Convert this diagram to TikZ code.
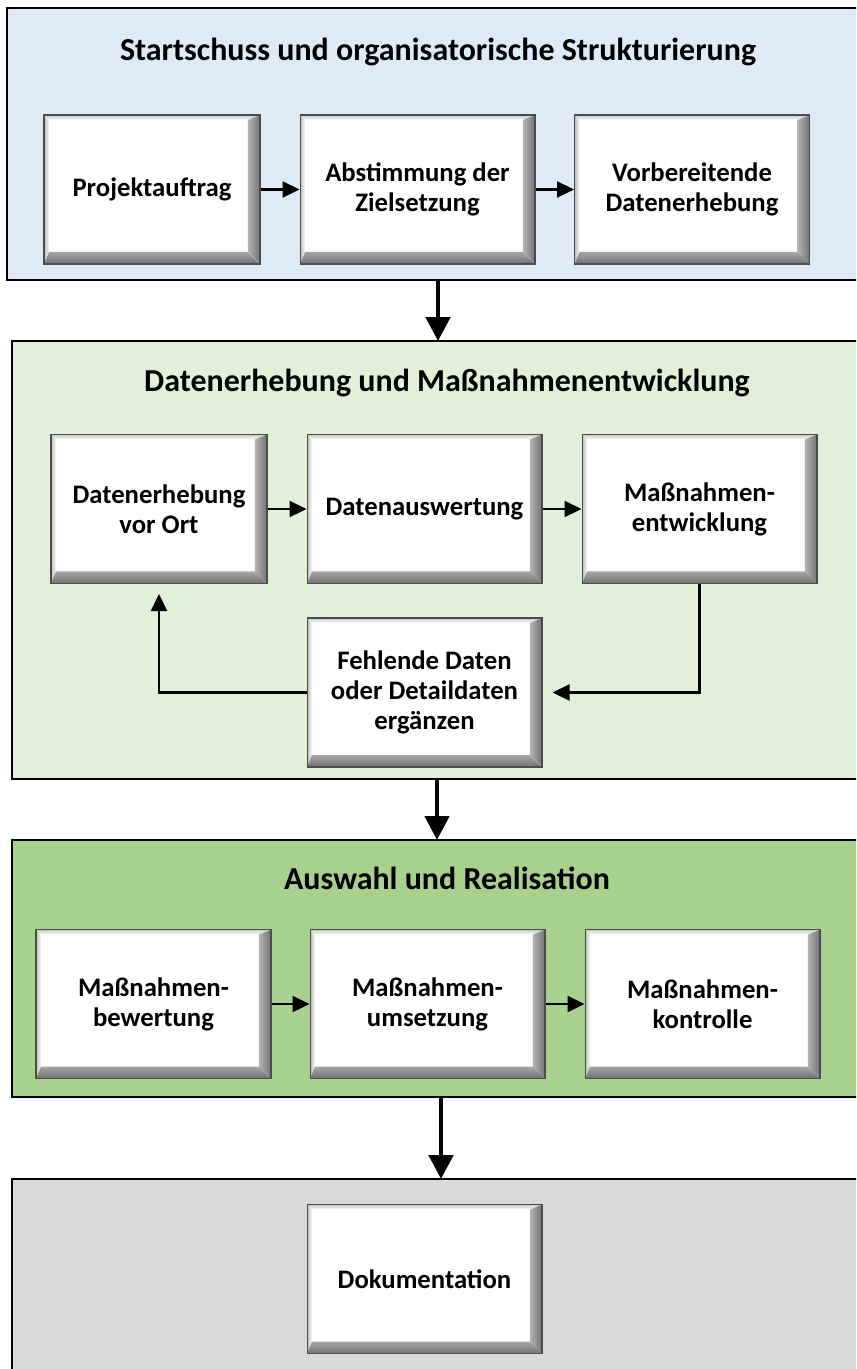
\documentclass[tikz,border=0pt]{standalone}
\usepackage{fontspec}
\setmainfont{Carlito}
\usetikzlibrary{arrows.meta,positioning}

\definecolor{startblue}{HTML}{DEEBF7}
\definecolor{datagreen}{HTML}{E2F0D9}
\definecolor{realgreen}{HTML}{A9D18E}
\definecolor{docgray}{HTML}{D9D9D9}

\tikzset{
    panel/.style={draw=black, line width=1.2pt},
    paneltitle/.style={font=\bfseries\fontsize{18.2}{21}\selectfont},
    bevelbox/.style={draw=black!70, line width=0.6pt, fill=white,
        minimum width=4.7cm, minimum height=2.98cm, inner sep=2pt, align=center,
        font=\bfseries\fontsize{15.2}{17}\selectfont,
        path picture={
            \coordinate (bnw) at (path picture bounding box.north west);
            \coordinate (bne) at (path picture bounding box.north east);
            \coordinate (bse) at (path picture bounding box.south east);
            \coordinate (bsw) at (path picture bounding box.south west);
            % top and left edge: light
            \fill[top color=black!22, bottom color=white]
                (bnw) -- (bne) -- ([shift={(-0.24cm,-0.1cm)}]bne) -- ([shift={(0.1cm,-0.1cm)}]bnw) -- cycle;
            \fill[left color=black!28, right color=white]
                (bnw) -- ([shift={(0.1cm,-0.1cm)}]bnw) -- ([shift={(0.1cm,0.24cm)}]bsw) -- (bsw) -- cycle;
            % right and bottom edge: dark
            \fill[left color=black!30, right color=black!55]
                (bne) -- (bse) -- ([shift={(-0.24cm,0.24cm)}]bse) -- ([shift={(-0.24cm,-0.1cm)}]bne) -- cycle;
            \fill[top color=black!35, bottom color=black!55]
                (bsw) -- ([shift={(0.1cm,0.24cm)}]bsw) -- ([shift={(-0.24cm,0.24cm)}]bse) -- (bse) -- cycle;
        }},
    smallbox/.style={bevelbox, minimum width=4.32cm},
    flow/.style={-{Triangle[length=0.34cm,width=0.32cm]}, line width=1.3pt},
    bigflow/.style={-{Triangle[length=0.48cm,width=0.48cm]}, line width=2.8pt},
}

\begin{document}
\begin{tikzpicture}[x=0.02cm,y=-0.02cm]
    \useasboundingbox (0,0) rectangle (856,1369);
    \clip (0,0) rectangle (856,1369);

    % panels
    \draw[panel, fill=startblue] (7,8) rectangle (880,280);
    \draw[panel, fill=datagreen] (12,341) rectangle (880,779);
    \draw[panel, fill=realgreen] (12,840) rectangle (880,1097);
    \draw[panel, fill=docgray] (12,1179) rectangle (880,1400);

    \node[paneltitle] (t1) at (438,52) {Startschuss und organisatorische Strukturierung};
    \node[paneltitle] (t2) at (447,383) {Datenerhebung und Maßnahmenentwicklung};
    \node[paneltitle] (t3) at (447,878) {Auswahl und Realisation};

    % phase 1
    \node[smallbox] (proj) at (152,189.5) {Projektauftrag};
    \node[bevelbox] (abst) at (417.5,189.5) {Abstimmung der\\Zielsetzung};
    \node[bevelbox] (vorb) at (692,189.5) {Vorbereitende\\Datenerhebung};

    % phase 2
    \node[smallbox] (erheb) at (159,509) {Datenerhebung\\vor Ort};
    \node[bevelbox] (ausw) at (424.5,509) {Datenauswertung};
    \node[bevelbox] (entw) at (699.5,509) {Maßnahmen-\\entwicklung};
    \node[bevelbox] (fehl) at (424.5,692.5) {Fehlende Daten\\oder Detaildaten\\ergänzen};

    % phase 3
    \node[bevelbox] (bew) at (153.5,1004) {Maßnahmen-\\bewertung};
    \node[bevelbox] (ums) at (427.5,1004) {Maßnahmen-\\umsetzung};
    \node[bevelbox] (kontr) at (702.5,1004) {Maßnahmen-\\kontrolle};

    % phase 4
    \node[bevelbox] (doku) at (424.5,1279) {Dokumentation};

    \draw[flow] (proj) -- (abst);
    \draw[flow] (abst) -- (vorb);
    \draw[flow] (erheb) -- (ausw);
    \draw[flow] (ausw) -- (entw);
    \draw[flow, shorten >=0.2cm] (entw.south) |- (fehl.east);
    \draw[flow, shorten >=0.2cm] (fehl.west) -| (erheb.south);
    \draw[flow] (bew) -- (ums);
    \draw[flow] (ums) -- (kontr);

    % between phases
    \coordinate (out1) at (438,279);
    \coordinate (in2) at (438,341);
    \coordinate (out2) at (437,779);
    \coordinate (in3) at (437,840);
    \coordinate (out3) at (441,1097);
    \coordinate (in4) at (441,1179);
    \draw[bigflow] (out1) -- (in2);
    \draw[bigflow] (out2) -- (in3);
    \draw[bigflow] (out3) -- (in4);
\end{tikzpicture}
\end{document}
